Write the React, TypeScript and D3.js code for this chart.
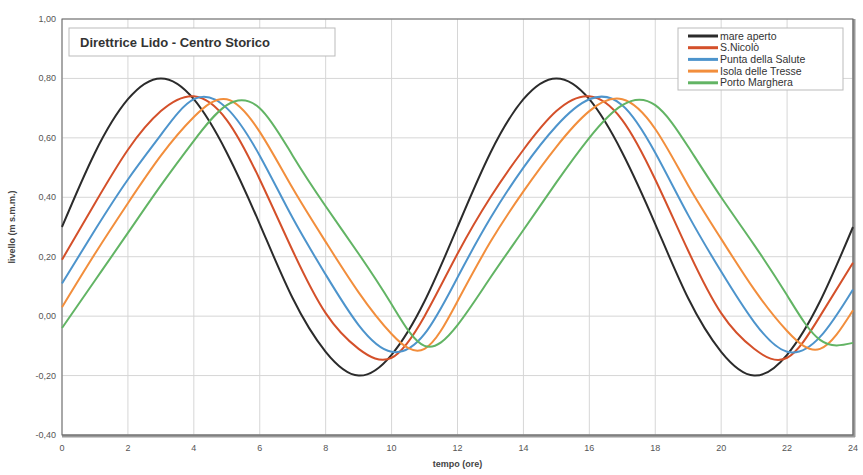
import * as d3 from 'd3';
import React, { useEffect, useRef } from 'react';

const hours = d3.range(0, 25);

const mareAperto = [0.3, 0.55, 0.73, 0.8, 0.73, 0.55, 0.31, 0.06, -0.12, -0.2, -0.13, 0.05, 0.3, 0.55, 0.73, 0.8, 0.73, 0.55, 0.31, 0.06, -0.12, -0.2, -0.13, 0.05, 0.3];
const sNicolo = [0.19, 0.38, 0.56, 0.69, 0.74, 0.66, 0.46, 0.22, 0.01, -0.11, -0.14, 0.0, 0.21, 0.4, 0.56, 0.69, 0.74, 0.66, 0.46, 0.22, 0.01, -0.11, -0.14, 0.0, 0.18];
const puntaSalute = [0.11, 0.29, 0.46, 0.61, 0.73, 0.7, 0.54, 0.33, 0.14, -0.03, -0.12, -0.06, 0.13, 0.33, 0.5, 0.64, 0.73, 0.71, 0.55, 0.34, 0.15, -0.02, -0.12, -0.07, 0.09];
const isolaTresse = [0.03, 0.21, 0.38, 0.54, 0.67, 0.73, 0.62, 0.43, 0.25, 0.08, -0.06, -0.11, 0.05, 0.25, 0.42, 0.57, 0.69, 0.73, 0.63, 0.44, 0.26, 0.09, -0.05, -0.11, 0.02];
const portoMarghera = [-0.04, 0.12, 0.28, 0.44, 0.59, 0.71, 0.7, 0.54, 0.37, 0.21, 0.04, -0.1, -0.03, 0.13, 0.29, 0.45, 0.6, 0.71, 0.71, 0.57, 0.4, 0.24, 0.07, -0.08, -0.09];

const seriesNames = ['mare aperto', 'S.Nicolò', 'Punta della Salute', 'Isola delle Tresse', 'Porto Marghera'];
const seriesValues = [mareAperto, sNicolo, puntaSalute, isolaTresse, portoMarghera];
const colors = ['#2b2b2b', '#d4502a', '#4d94cc', '#f28e3c', '#62b464'];

const xTicks = d3.range(0, 25, 2);
const yTicks = [-0.4, -0.2, 0, 0.2, 0.4, 0.6, 0.8, 1.0];

const App = () => {
  const svgRef = useRef(null);

  useEffect(() => {
    const svg = d3.select(svgRef.current);
    svg.selectAll('*').remove();

    const x = d3.scaleLinear().domain([0, 24]).range([62, 853]);
    const y = d3.scaleLinear().domain([-0.4, 1.0]).range([435, 19]);
    const font = '"Liberation Sans", Arial, sans-serif';

    // grid
    const grid = svg.append('g').attr('stroke', '#d6d6d6').attr('stroke-width', 1);
    xTicks.forEach((t) => {
      grid.append('line').attr('x1', x(t)).attr('x2', x(t)).attr('y1', y(1)).attr('y2', y(-0.4));
    });
    yTicks.forEach((v) => {
      grid.append('line').attr('x1', x(0)).attr('x2', x(24)).attr('y1', y(v)).attr('y2', y(v));
    });

    // frame with shadow on bottom and right
    svg.append('line').attr('x1', x(0)).attr('x2', x(24) + 2).attr('y1', y(-0.4) + 1).attr('y2', y(-0.4) + 1)
      .attr('stroke', '#9a9a9a').attr('stroke-width', 3);
    svg.append('line').attr('x1', x(24) + 1).attr('x2', x(24) + 1).attr('y1', y(1)).attr('y2', y(-0.4) + 2)
      .attr('stroke', '#9a9a9a').attr('stroke-width', 3);
    svg.append('rect').attr('x', x(0)).attr('y', y(1)).attr('width', x(24) - x(0)).attr('height', y(-0.4) - y(1))
      .attr('fill', 'none').attr('stroke', '#666').attr('stroke-width', 1);

    // tick labels
    const fmt = (v: number) => d3.format('.2f')(v).replace('.', ',').replace('−', '-');
    svg.append('g').selectAll('text').data(yTicks).enter().append('text')
      .attr('x', 56).attr('y', (d) => y(d) + 3).attr('text-anchor', 'end')
      .attr('font-family', font).attr('font-size', 9).attr('fill', '#555')
      .text((d) => fmt(d));
    svg.append('g').selectAll('text').data(xTicks).enter().append('text')
      .attr('x', (d) => x(d)).attr('y', 451).attr('text-anchor', 'middle')
      .attr('font-family', font).attr('font-size', 9).attr('fill', '#555')
      .text((d) => d);

    svg.append('text').attr('x', x(12)).attr('y', 467).attr('text-anchor', 'middle')
      .attr('font-family', font).attr('font-size', 9).attr('font-weight', 'bold').attr('fill', '#444')
      .text('tempo (ore)');
    svg.append('text').attr('transform', `translate(15,${y(0.3)}) rotate(-90)`).attr('text-anchor', 'middle')
      .attr('font-family', font).attr('font-size', 9).attr('font-weight', 'bold').attr('fill', '#444')
      .text('livello (m s.m.m.)');

    // series
    const line = d3.line<number>()
      .x((_, i) => x(hours[i]))
      .y((d) => y(d))
      .curve(d3.curveNatural);
    seriesValues.forEach((vals, i) => {
      svg.append('path').datum(vals).attr('d', line).attr('fill', 'none')
        .attr('stroke', colors[i]).attr('stroke-width', 2);
    });

    // title box
    svg.append('rect').attr('x', 69).attr('y', 28).attr('width', 266).attr('height', 28)
      .attr('fill', '#fff').attr('stroke', '#bbb');
    svg.append('text').attr('x', 80).attr('y', 47).attr('font-family', font).attr('font-size', 13)
      .attr('font-weight', 'bold').attr('fill', '#333').text('Direttrice Lido - Centro Storico');

    // legend
    const lg = svg.append('g');
    lg.append('rect').attr('x', 678).attr('y', 28).attr('width', 165).attr('height', 62)
      .attr('fill', '#fff').attr('stroke', '#bbb');
    seriesNames.forEach((name, i) => {
      const ly = 36 + i * 11.7;
      lg.append('line').attr('x1', 688).attr('x2', 718).attr('y1', ly).attr('y2', ly)
        .attr('stroke', colors[i]).attr('stroke-width', 3);
      lg.append('text').attr('x', 720).attr('y', ly + 3.5).attr('font-family', font).attr('font-size', 10.5)
        .attr('fill', '#333').text(name);
    });
  }, []);

  return (
    <svg ref={svgRef} width={863} height={475}
      style={{ position: 'absolute', left: 0, top: 0, background: '#fff' }} />
  );
};

export default App;
